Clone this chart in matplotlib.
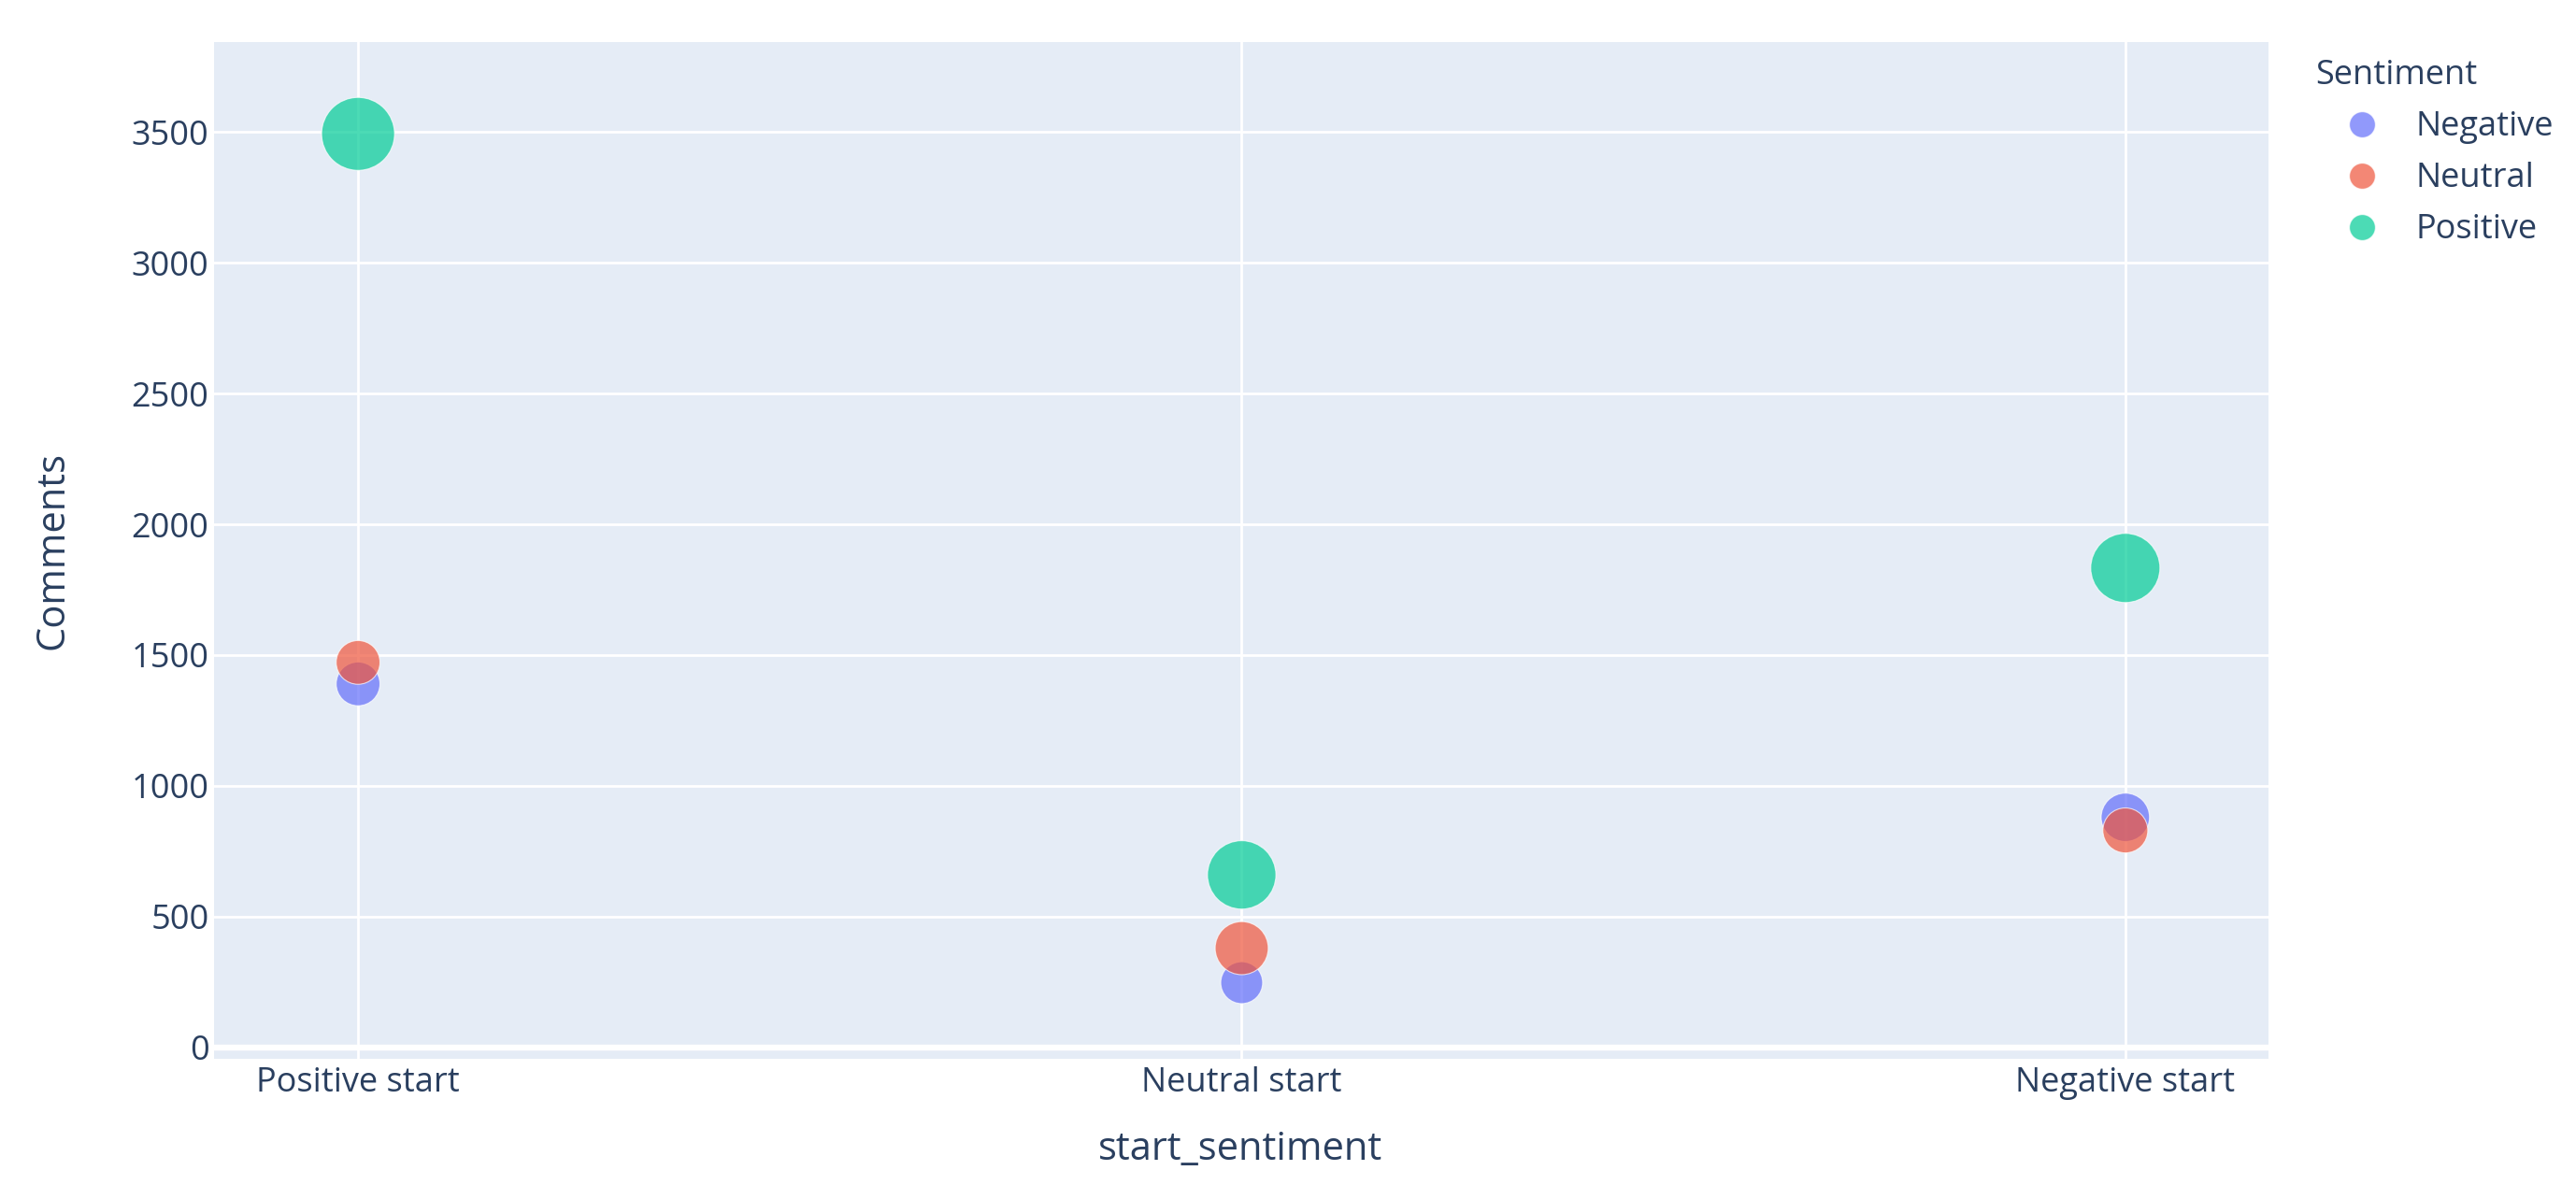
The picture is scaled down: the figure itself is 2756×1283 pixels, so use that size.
import numpy as np
import matplotlib.pyplot as plt
from matplotlib.lines import Line2D

# data
start_cats = ['Positive start', 'Neutral start', 'Negative start']
sentiments = ['Negative', 'Neutral', 'Positive']
comments = {
    'Negative': [1390, 248, 880],
    'Neutral':  [1472, 380, 830],
    'Positive': [3492, 660, 1833],
}
# relative bubble size variable (area, max = 1)
size_var = {
    'Negative': [0.36, 0.33, 0.44],
    'Neutral':  [0.36, 0.53, 0.38],
    'Positive': [1.00, 0.88, 0.90],
}
colors = {'Negative': '#636efa', 'Neutral': '#EF553B', 'Positive': '#00cc96'}

TXT = '#2a3f5f'
DPI = 200
MAX_D = 78  # px diameter of the biggest bubble

plt.rcParams['font.family'] = ['Open Sans', 'DejaVu Sans']

fig = plt.figure(figsize=(2756 / DPI, 1283 / DPI), dpi=DPI)
ax = fig.add_axes([229 / 2756, 1 - 1133 / 1283, (2427 - 229) / 2756, (1133 - 45) / 1283])
ax.set_facecolor('#E5ECF6')
for s in ax.spines.values():
    s.set_visible(False)

x = np.arange(len(start_cats))
for name in sentiments:
    d_pt = MAX_D * np.sqrt(np.array(size_var[name])) * 72 / DPI
    ax.scatter(x, comments[name], s=d_pt ** 2, color=colors[name], alpha=0.7,
               edgecolors='white', linewidths=0.4, zorder=3)

ax.set_xlim(-0.163, 2.162)
ax.set_ylim(-43, 3843)
ax.set_xticks(x)
ax.set_xticklabels(start_cats)
ax.set_yticks(np.arange(0, 3501, 500))
ax.grid(True, color='white', linewidth=1.0, zorder=0)
ax.axhline(0, color='white', linewidth=2.3, zorder=1)
ax.set_axisbelow(True)
ax.tick_params(length=0, labelsize=13, labelcolor=TXT)
ax.tick_params(axis='y', pad=2)
ax.tick_params(axis='x', pad=3)

ax.set_xlabel('start_sentiment', fontsize=15, color=TXT, va='center')
ax.set_ylabel('Comments', fontsize=15, color=TXT, va='center')
ax.xaxis.set_label_coords(0.4995, -0.089)
ax.yaxis.set_label_coords(-0.0783, 0.50)

handles = [Line2D([], [], linestyle='none', marker='o', markersize=10,
                  markerfacecolor=colors[n], markeredgecolor='white',
                  markeredgewidth=0.4, alpha=0.7) for n in sentiments]
leg = fig.legend(handles, sentiments, title='Sentiment', loc='upper left',
                 bbox_to_anchor=(2477 / 2756, 1 - 63 / 1283), frameon=False,
                 fontsize=13, title_fontsize=13, borderpad=0, borderaxespad=0,
                 handlelength=2.77, handletextpad=0.22, labelspacing=0.53,
                 alignment='left')
for t in leg.get_texts():
    t.set_color(TXT)
leg.get_title().set_color(TXT)

fig.savefig('out.png', dpi=DPI, facecolor='white')
